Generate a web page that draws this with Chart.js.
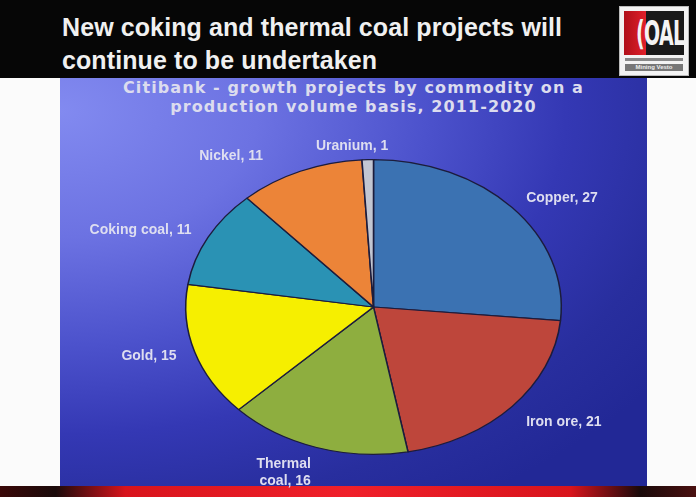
<!DOCTYPE html>
<html>
<head>
<meta charset="utf-8">
<script src="https://cdn.jsdelivr.net/npm/chart.js@4/dist/chart.umd.min.js"></script>
<style>
  html, body { margin: 0; padding: 0; }
  body { width: 696px; height: 497px; position: relative; overflow: hidden; background: #fbfbfb; font-family: "Liberation Sans", Arial, sans-serif; }
  #header { position: absolute; left: 0; top: 0; width: 696px; height: 78px; background: #060606; }
  #headTitle { position: absolute; left: 62px; top: 11px; color: #f0f0f0; font-weight: bold; font-size: 25px; line-height: 33px; letter-spacing: 0.1px; }
  #logo { position: absolute; left: 619px; top: 6px; width: 70px; height: 70px; background: #f3f3f3; box-sizing: border-box; border: 1px solid #bbb; }
  #logoInner { position: absolute; left: 4px; top: 4px; width: 60px; height: 44px; background: #1a1a1a; overflow: hidden; }
  #logoRed { position: absolute; left: 0; top: 0; width: 22px; height: 44px; background: linear-gradient(90deg, #b0101a, #e0202a); }
  #logoText { position: absolute; left: 12px; top: 3px; color: #f4f4f4; font-family: "Liberation Sans Narrow", "DejaVu Sans Condensed", sans-serif; font-weight: bold; font-size: 34px; line-height: 38px; letter-spacing: -1px; transform: scaleX(0.62); transform-origin: 0 0; white-space: nowrap; }
  #logoSub1 { position: absolute; left: 5px; top: 51px; width: 58px; height: 3px; background: #888; }
  #logoSub2 { position: absolute; left: 5px; top: 57px; width: 58px; height: 7px; background: #777; color: #eee; font-size: 6px; line-height: 7px; text-align: center; font-weight: bold; }
  #panel { position: absolute; left: 60px; top: 78px; width: 587px; height: 408px;
    background: radial-gradient(ellipse 125% 115% at 0% 8%, #828af0 0%, #6c72e2 27%, #4c52cc 50%, #3438b4 69%, #282e9e 86%, #222896 100%); }
  #chartTitle { position: absolute; left: 60px; top: 78px; width: 587px; text-align: center; color: #dcdcee; font-family: "DejaVu Sans", sans-serif; font-weight: bold; font-size: 16px; line-height: 19px; letter-spacing: 1.1px; }
  #bottom { position: absolute; left: 0; top: 486px; width: 696px; height: 11px;
    background: linear-gradient(90deg, #3a0808 0%, #1a0a0a 8%, #d8141c 18%, #f0202a 50%, #d8141c 82%, #1a0a0a 92%, #4a1010 100%); }
  #chart { position: absolute; left: 0; top: 0; }
</style>
</head>
<body>
<div id="header"></div>
<div id="headTitle">New coking and thermal coal projects will<br>continue to be undertaken</div>
<div id="logo">
  <div id="logoInner"><div id="logoRed"></div><div id="logoText">(OAL</div></div>
  <div id="logoSub1"></div>
  <div id="logoSub2">Mining Vesto</div>
</div>
<div id="panel"></div>
<div id="chartTitle">Citibank - growth projects by commodity on a<br>production volume basis, 2011-2020</div>
<div id="bottom"></div>
<canvas id="chart" width="696" height="497"></canvas>
<script>
// ---- data ----
const categories = ['Copper', 'Iron ore', ['Thermal', 'coal'], 'Gold', 'Coking coal', 'Nickel', 'Uranium'];
const values = [27, 21, 16, 15, 11, 11, 1];
const sliceColors = ['#3b72b2', '#be463b', '#8eae3f', '#f6ef00', '#2a92b4', '#ec8438', '#c2c6d2'];

// horizontal stretch of the pie (reference pie is an ellipse)
const STRETCH = 1.274;

const stretchPlugin = {
  id: 'stretch',
  beforeDatasetsDraw(chart) {
    const meta = chart.getDatasetMeta(0);
    const cx = meta.data[0].x;
    const ctx = chart.ctx;
    ctx.save();
    ctx.translate(cx, 0);
    ctx.scale(STRETCH, 1);
    ctx.translate(-cx, 0);
  },
  afterDatasetsDraw(chart) {
    chart.ctx.restore();
  }
};

const labelPlugin = {
  id: 'sliceLabels',
  afterDraw(chart, args, opts) {
    const ctx = chart.ctx;
    const meta = chart.getDatasetMeta(0);
    const data = chart.data.datasets[0].data;
    ctx.save();
    ctx.font = 'bold 14px "Liberation Sans", Arial, sans-serif';
    ctx.fillStyle = '#dedef0';
    const lh = 17;
    meta.data.forEach((arc, i) => {
      const p = arc.getProps(['x', 'y', 'startAngle', 'endAngle', 'outerRadius'], true);
      const mid = (p.startAngle + p.endAngle) / 2;
      const c = Math.cos(mid), s = Math.sin(mid);
      const k = 1.1;
      const nudge = (opts.nudge && opts.nudge[i]) || [0, 0];
      const ax = p.x + c * p.outerRadius * k * STRETCH + nudge[0];
      const ay = p.y + s * p.outerRadius * k + nudge[1];
      let lab = chart.data.labels[i];
      let lines = Array.isArray(lab) ? lab.slice() : [lab];
      lines[lines.length - 1] = lines[lines.length - 1] + ', ' + data[i];
      ctx.textAlign = Math.abs(c) < 0.15 ? 'center' : (c > 0 ? 'left' : 'right');
      ctx.textBaseline = 'middle';
      let y0;
      if (lines.length > 1 && s > 0.85) y0 = ay + 3;
      else y0 = ay - (lines.length - 1) * lh / 2;
      lines.forEach((t, j) => ctx.fillText(t, ax, y0 + j * lh));
    });
    ctx.restore();
  }
};

new Chart(document.getElementById('chart'), {
  type: 'pie',
  data: {
    labels: categories,
    datasets: [{
      data: values,
      backgroundColor: sliceColors,
      borderColor: '#1c1c3c',
      borderWidth: 1.2
    }]
  },
  options: {
    responsive: false,
    animation: false,
    events: [],
    layout: { padding: { top: 159, bottom: 42, left: 225.5, right: 174.5 } },
    plugins: {
      legend: { display: false },
      tooltip: { enabled: false },
      title: { display: false },
      sliceLabels: { nudge: [[0, 0], [0, 6], [0, 0], [0, 0], [0, 0], [-30, -2], [-15, 1]] }
    }
  },
  plugins: [stretchPlugin, labelPlugin]
});
</script>
</body>
</html>
